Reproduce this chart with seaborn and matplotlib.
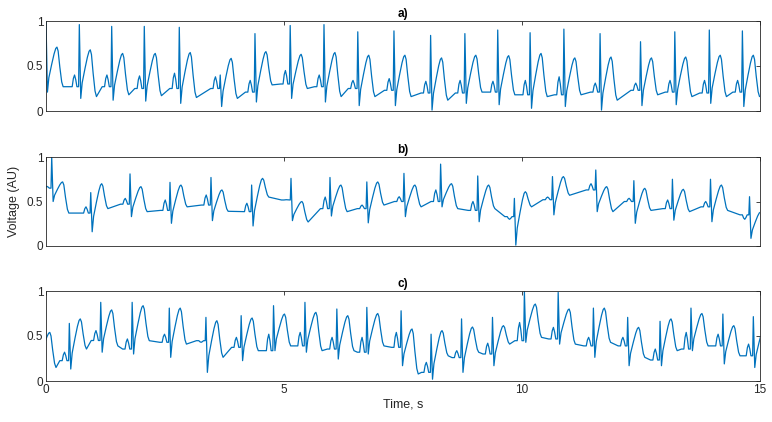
import numpy as np
import pandas as pd
import matplotlib
matplotlib.use("Agg")
import matplotlib.pyplot as plt
import seaborn as sns

# ---------------- data (per-beat readings, seconds / AU) ----------------
# panel a
a_r_time = [0.00, 0.70, 1.38, 2.065, 2.80, 3.66, 4.39, 5.13, 5.84, 6.55, 7.31,
            8.08, 8.80, 9.49, 10.17, 10.88, 11.64, 12.49, 13.21, 13.935, 14.63]
a_r = [1.00, 0.96, 0.94, 0.94, 0.93, 0.40, 0.86, 0.95, 0.96, 0.88, 0.89,
       0.84, 0.86, 0.90, 0.87, 0.91, 0.86, 0.77, 0.88, 0.90, 0.89]
a_s = [0.21, 0.14, 0.12, 0.11, 0.085, 0.05, 0.10, 0.14, 0.10, 0.06, 0.06,
       0.01, 0.085, 0.07, 0.03, 0.05, 0.01, 0.06, 0.07, 0.085, 0.05]
a_t = [0.71, 0.68, 0.64, 0.64, 0.65, 0.585, 0.66, 0.63, 0.65, 0.62, 0.62,
       0.59, 0.62, 0.615, 0.64, 0.59, 0.60, 0.59, 0.60, 0.62, 0.62]
a_p = [0.35, 0.40, 0.40, 0.39, 0.42, 0.38, 0.34, 0.45, 0.40, 0.34, 0.36,
       0.33, 0.34, 0.33, 0.34, 0.38, 0.31, 0.31, 0.34, 0.34, 0.34]
a_b = [0.33, 0.27, 0.27, 0.25, 0.25, 0.25, 0.21, 0.30, 0.27, 0.25, 0.23,
       0.20, 0.20, 0.21, 0.18, 0.18, 0.21, 0.23, 0.21, 0.20, 0.21]
a_u = [0.27, 0.16, 0.18, 0.17, 0.15, 0.14, 0.29, 0.25, 0.16, 0.16, 0.16,
       0.12, 0.21, 0.18, 0.16, 0.18, 0.12, 0.18, 0.16, 0.16, 0.16]

# panel b
b_r_time = [0.12, 0.94, 1.765, 2.605, 3.466, 4.32, 5.147, 5.966, 6.74, 7.52,
            8.29, 9.07, 9.84, 10.64, 11.55, 12.35, 13.16, 13.96, 14.78]
b_r = [1.00, 0.60, 0.81, 0.715, 0.77, 0.685, 0.76, 0.77, 0.72, 0.816,
       0.92, 0.787, 0.535, 0.78, 0.854, 0.734, 0.75, 0.75, 0.554]
b_s = [0.50, 0.16, 0.33, 0.255, 0.285, 0.225, 0.285, 0.337, 0.26, 0.33,
       0.44, 0.273, 0.01, 0.35, 0.386, 0.255, 0.29, 0.273, 0.086]
b_t = [0.72, 0.70, 0.667, 0.685, 0.63, 0.76, 0.50, 0.685, 0.72, 0.685,
       0.70, 0.685, 0.61, 0.78, 0.667, 0.648, 0.637, 0.685, 0.38]
b_p = [0.67, 0.44, 0.535, 0.517, 0.573, 0.48, 0.52, 0.55, 0.46, 0.554,
       0.63, 0.50, 0.30, 0.55, 0.70, 0.536, 0.517, 0.50, 0.30]
b_b = [0.65, 0.37, 0.47, 0.40, 0.46, 0.386, 0.517, 0.42, 0.42, 0.50,
       0.50, 0.40, 0.33, 0.52, 0.63, 0.50, 0.42, 0.44, 0.35]
b_u = [0.37, 0.42, 0.386, 0.44, 0.39, 0.55, 0.27, 0.386, 0.46, 0.44,
       0.42, 0.42, 0.44, 0.57, 0.386, 0.40, 0.386, 0.40, 0.30]

# panel c
c_r_time = [-0.15, 0.49, 1.15, 1.81, 2.59, 3.36, 4.10, 4.78, 5.44, 6.11, 6.74, 7.46,
            8.09, 8.73, 9.38, 10.05, 10.76, 11.50, 12.22, 12.90, 13.55, 14.22, 14.86]
c_r = [0.50, 0.64, 0.874, 0.874, 0.81, 0.707, 0.726, 0.837, 0.874, 0.80, 0.818, 0.78,
       0.52, 0.69, 0.707, 1.0, 0.985, 0.81, 0.707, 0.663, 0.81, 0.744, 0.715]
c_s = [0.22, 0.133, 0.32, 0.30, 0.263, 0.096, 0.226, 0.337, 0.32, 0.244, 0.30, 0.17,
       0.02, 0.096, 0.17, 0.43, 0.41, 0.263, 0.17, 0.17, 0.337, 0.19, 0.15]
c_t = [0.54, 0.69, 0.79, 0.837, 0.81, 0.67, 0.70, 0.744, 0.763, 0.726, 0.75, 0.578,
       0.56, 0.60, 0.615, 0.855, 0.80, 0.81, 0.596, 0.69, 0.75, 0.615, 0.60]
c_p = [0.35, 0.32, 0.56, 0.467, 0.52, 0.43, 0.485, 0.52, 0.54, 0.485, 0.485, 0.54,
       0.207, 0.337, 0.42, 0.65, 0.596, 0.485, 0.485, 0.355, 0.54, 0.52, 0.41]
c_b = [0.35, 0.226, 0.45, 0.355, 0.43, 0.448, 0.374, 0.337, 0.39, 0.355, 0.32, 0.374,
       0.096, 0.26, 0.30, 0.448, 0.467, 0.39, 0.39, 0.233, 0.355, 0.39, 0.28]
c_u = [0.15, 0.355, 0.39, 0.448, 0.41, 0.263, 0.337, 0.39, 0.337, 0.337, 0.39, 0.078,
       0.28, 0.32, 0.41, 0.485, 0.41, 0.43, 0.263, 0.337, 0.39, 0.28, 0.30]

panel_titles = ["a)", "b)", "c)"]
x_ticks = [0, 5, 10, 15]
y_ticks = [0, 0.5, 1]
y_ticklabels = ["0", "0.5", "1"]

# waveform shape of one beat: (offset from R in s, landmark, blend fraction)
SHAPE = [(-0.20, "b", 0), (-0.15, "b", 0), (-0.125, "bp", 0.7), (-0.10, "p", 0),
         (-0.075, "bp", 0.6), (-0.05, "b", 0), (-0.015, "b", 0), (0.0, "r", 0),
         (0.03, "s", 0), (0.06, "st", 0.32), (0.12, "st", 0.62), (0.17, "st", 0.85),
         (0.205, "st", 0.97), (0.23, "t", 0), (0.255, "tu", 0.9), (0.29, "tu", 0.5),
         (0.33, "tu", 0.12), (0.36, "u", 0)]


def build_trace(rt, r, s, t, p, b, u):
    """Join the read-off beat landmarks into one polyline."""
    xs, ys = [], []
    for i in range(len(rt)):
        for o, kind, f in SHAPE:
            if kind == "b":
                v = b[i]
            elif kind == "p":
                v = p[i]
            elif kind == "bp":
                v = b[i] + f * (p[i] - b[i])
            elif kind == "r":
                v = r[i]
            elif kind == "s":
                v = s[i]
            elif kind == "st":
                v = s[i] + f * (t[i] - s[i])
            elif kind == "t":
                v = t[i]
            elif kind == "tu":
                v = u[i] + f * (t[i] - u[i])
            else:
                v = u[i]
            xs.append(rt[i] + o)
            ys.append(v)
    return pd.DataFrame({"time": xs, "volt": ys})


traces = [build_trace(a_r_time, a_r, a_s, a_t, a_p, a_b, a_u),
          build_trace(b_r_time, b_r, b_s, b_t, b_p, b_b, b_u),
          build_trace(c_r_time, c_r, c_s, c_t, c_p, c_b, c_u)]

# ---------------- style ----------------
sns.set_theme(style="white")
plt.rcParams["font.family"] = ["Liberation Sans", "DejaVu Sans"]
plt.rcParams["font.size"] = 8

W, H = 772, 422
fig = plt.figure(figsize=(W / 100, H / 100), dpi=100)
fig.patch.set_facecolor("white")

boxes = [(21, 111), (157, 246), (291, 381)]
left, right = 46, 760
line_col = "#0072BD"
axis_col = "#262626"

axes = []
for k, (top, bot) in enumerate(boxes):
    ax = fig.add_axes([left / W, 1 - bot / H, (right - left) / W, (bot - top) / H])
    sns.lineplot(data=traces[k], x="time", y="volt", ax=ax, color=line_col,
                 linewidth=0.9, sort=False, estimator=None)
    ax.set_xlim(0, 15)
    ax.set_ylim(0, 1)
    ax.set_xticks(x_ticks)
    ax.set_yticks(y_ticks)
    ax.set_yticklabels(y_ticklabels)
    ax.tick_params(direction="in", length=3, width=0.6, colors=axis_col,
                   top=True, right=True, labelsize=8.5, pad=2)
    for sp in ax.spines.values():
        sp.set_visible(True)
        sp.set_color(axis_col)
        sp.set_linewidth(0.6)
    ax.set_title(panel_titles[k], fontsize=8.5, fontweight="bold", color="black", pad=3)
    ax.set_xlabel("")
    ax.set_ylabel("")
    if k < 2:
        ax.set_xticklabels([])
    axes.append(ax)

axes[2].set_xlabel("Time, s", fontsize=9, color=axis_col, labelpad=2)
axes[1].set_ylabel("Voltage (AU)", fontsize=9, color=axis_col, labelpad=5)

fig.savefig("out.png", dpi=100, facecolor="white")
